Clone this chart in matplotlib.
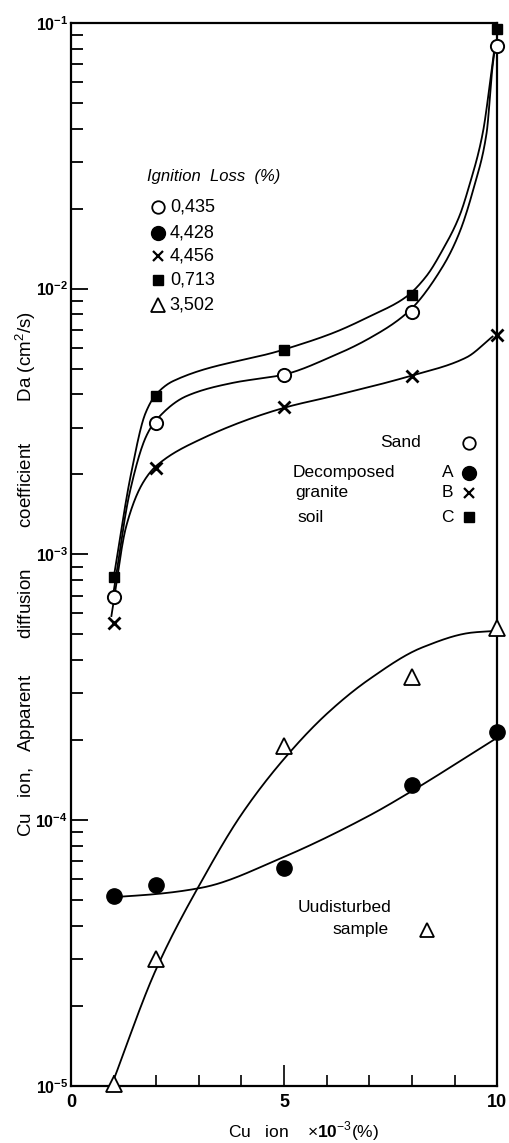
import numpy as np
import matplotlib
matplotlib.use("Agg")
import matplotlib.pyplot as plt
from matplotlib.ticker import MultipleLocator, LogLocator, FuncFormatter, NullFormatter

plt.rcParams['font.family'] = ['Liberation Sans', 'DejaVu Sans']
plt.rcParams['mathtext.fontset'] = 'custom'
plt.rcParams['mathtext.rm'] = 'Liberation Sans'
plt.rcParams['mathtext.bf'] = 'Liberation Sans:bold'

# measured points, Cu ion x 10^-3 (%)
x_pts = [1, 2, 5, 8, 10]
sand_y = [6.9e-4, 3.13e-3, 4.75e-3, 8.2e-3, 8.2e-2]      # 0,435
a_y = [5.18e-5, 5.7e-5, 6.6e-5, 1.36e-4, 2.14e-4]         # 4,428
b_y = [5.5e-4, 2.12e-3, 3.57e-3, 4.67e-3, 6.7e-3]         # 4,456
c_y = [8.2e-4, 3.93e-3, 5.9e-3, 9.5e-3, 9.5e-2]           # 0,713
und_y = [1.02e-5, 3.0e-5, 1.9e-4, 3.45e-4, 5.3e-4]        # 3,502

# hand drawn fitted curves
c_cx = [1.0, 1.4, 1.75, 2.0, 2.4, 5.0, 6.14, 7.0, 7.86, 8.33, 8.72, 9.11, 9.34, 9.66, 9.85, 9.95]
c_cy = [8.1e-4, 1.97e-3, 3.4e-3, 4.0e-3, 4.49e-3, 5.9e-3, 6.8e-3, 7.85e-3, 9.3e-3, 1.11e-2,
        1.4e-2, 1.87e-2, 2.43e-2, 3.85e-2, 6.3e-2, 8.4e-2]
sand_cx = [1.0, 1.38, 1.77, 2.0, 2.71, 3.8, 5.0, 6.14, 7.0, 7.92, 8.72, 9.11, 9.46, 9.75, 9.89, 9.95]
sand_cy = [7.2e-4, 1.71e-3, 2.79e-3, 3.2e-3, 3.94e-3, 4.42e-3, 4.75e-3, 5.57e-3, 6.5e-3, 8.2e-3,
           1.21e-2, 1.62e-2, 2.43e-2, 3.85e-2, 6.86e-2, 8.1e-2]
b_cx = [0.95, 1.3, 1.69, 2.0, 3.02, 5.0, 6.14, 7.94, 9.27, 9.89]
b_cy = [5.86e-4, 1.28e-3, 1.86e-3, 2.15e-3, 2.7e-3, 3.56e-3, 3.94e-3, 4.68e-3, 5.5e-3, 6.6e-3]
und_cx = [0.95, 2.0, 3.1, 4.0, 5.0, 6.0, 7.0, 8.25, 9.42, 9.95]
und_cy = [1.0e-5, 2.75e-5, 6.03e-5, 1.05e-4, 1.70e-4, 2.51e-4, 3.39e-4, 4.47e-4, 5.08e-4, 5.15e-4]
a_cx = [1.0, 2.0, 3.1, 4.97, 7.0, 7.94, 9.93]
a_cy = [5.13e-5, 5.27e-5, 5.58e-5, 7.24e-5, 1.04e-4, 1.27e-4, 2.01e-4]

ignition_labels = ["0,435", "4,428", "4,456", "0,713", "3,502"]


def smooth(xs, ys, n=30):
    # monotone cubic (pchip) through the read points, in log space
    x = np.asarray(xs, float)
    ly = np.log10(np.asarray(ys, float))
    h = np.diff(x)
    d = np.diff(ly) / h
    m = np.zeros_like(ly)
    m[0], m[-1] = d[0], d[-1]
    for k in range(1, len(x) - 1):
        if d[k - 1] * d[k] > 0:
            w1 = 2 * h[k] + h[k - 1]
            w2 = h[k] + 2 * h[k - 1]
            m[k] = (w1 + w2) / (w1 / d[k - 1] + w2 / d[k])
    ox, oy = [], []
    t = np.linspace(0, 1, n)
    h00 = 2 * t**3 - 3 * t**2 + 1
    h10 = t**3 - 2 * t**2 + t
    h01 = -2 * t**3 + 3 * t**2
    h11 = t**3 - t**2
    for i in range(len(x) - 1):
        ox.extend(x[i] + t * h[i])
        oy.extend(h00 * ly[i] + h10 * h[i] * m[i] + h01 * ly[i + 1] + h11 * h[i] * m[i + 1])
    return np.array(ox), 10 ** np.array(oy)


fig = plt.figure(figsize=(5.10, 11.43), dpi=100)
ax = fig.add_axes([0.139, 0.050, 0.836, 0.930])
ax.set_yscale('log')
ax.set_xlim(0, 10)
ax.set_ylim(1e-5, 1e-1)

lw = 1.3
for cx, cy in [(c_cx, c_cy), (sand_cx, sand_cy), (b_cx, b_cy), (und_cx, und_cy), (a_cx, a_cy)]:
    sx, sy = smooth(cx, cy)
    ax.plot(sx, sy, color='black', lw=lw, zorder=2)

mk = dict(color='black', linestyle='none', clip_on=False, zorder=3)
ax.plot(x_pts, sand_y, marker='o', ms=9.5, mfc='white', mew=1.4, **mk)
ax.plot(x_pts, a_y, marker='o', ms=11, mfc='black', **mk)
ax.plot(x_pts, b_y, marker='x', ms=8, mew=2.0, **mk)
ax.plot(x_pts, c_y, marker='s', ms=7, mfc='black', **mk)
ax.plot(x_pts, und_y, marker='^', ms=11, mfc='white', mew=1.3, **mk)

# axes styling
for s in ax.spines.values():
    s.set_linewidth(1.6)
ax.xaxis.set_major_locator(MultipleLocator(5))
ax.xaxis.set_minor_locator(MultipleLocator(1))
ax.yaxis.set_major_locator(LogLocator(base=10, numticks=10))
ax.yaxis.set_minor_locator(LogLocator(base=10, subs=np.arange(2, 10), numticks=20))
ax.yaxis.set_minor_formatter(NullFormatter())
ax.yaxis.set_major_formatter(FuncFormatter(lambda v, p: r'$\mathbf{10^{%d}}$' % round(np.log10(v))))
ax.tick_params(axis='x', which='major', direction='in', length=15, width=1.2, pad=6,
               labelsize=13, top=False)
ax.tick_params(axis='x', which='minor', direction='in', length=8, width=1.2, top=False)
ax.tick_params(axis='y', which='major', direction='in', length=12, width=1.3, pad=2,
               labelsize=11.5, right=False)
ax.tick_params(axis='y', which='minor', direction='in', length=8.5, width=1.3, right=False)
for lab in ax.get_xticklabels():
    lab.set_fontweight('bold')

ax.set_xlabel(r'Cu   ion    $\times\mathbf{10}^{-3}$(%)', fontsize=12.5)
ax.xaxis.set_label_coords(0.545, -0.032)
ax.set_ylabel(r'Cu   ion,   Apparent       diffusion        coefficient        Da (cm$^2$/s)',
              fontsize=13.5)
ax.yaxis.set_label_coords(-0.078, 0.481)

# key, top left
ax.text(0.178, 0.855, 'Ignition  Loss  (%)', transform=ax.transAxes, fontsize=12,
        style='italic', va='center', ha='left')
key_y = [0.827, 0.802, 0.781, 0.758, 0.735]
key_m = [dict(marker='o', ms=9, mfc='white', mew=1.3),
         dict(marker='o', ms=10, mfc='black'),
         dict(marker='x', ms=7, mew=1.6),
         dict(marker='s', ms=7, mfc='black'),
         dict(marker='^', ms=10, mfc='white', mew=1.3)]
for ky, km, kl in zip(key_y, key_m, ignition_labels):
    ax.plot([0.204], [ky], transform=ax.transAxes, color='black', linestyle='none', **km)
    ax.text(0.232, ky, kl, transform=ax.transAxes, fontsize=13, va='center', ha='left')

# key, right side
ax.text(0.822, 0.605, 'Sand', transform=ax.transAxes, fontsize=12.5, va='center', ha='right')
ax.text(0.520, 0.577, 'Decomposed', transform=ax.transAxes, fontsize=12.5, va='center', ha='left')
ax.text(0.527, 0.558, 'granite', transform=ax.transAxes, fontsize=12.5, va='center', ha='left')
ax.text(0.532, 0.535, 'soil', transform=ax.transAxes, fontsize=12.5, va='center', ha='left')
for ky, kl, km in zip([0.605, 0.577, 0.558, 0.535], ['', 'A', 'B', 'C'], key_m[:4]):
    if kl:
        ax.text(0.883, ky, kl, transform=ax.transAxes, fontsize=12.5, va='center', ha='center')
    ax.plot([0.934], [ky], transform=ax.transAxes, color='black', linestyle='none', **km)

ax.text(0.532, 0.168, 'Uudisturbed', transform=ax.transAxes, fontsize=12.5, va='center', ha='left')
ax.text(0.614, 0.147, 'sample', transform=ax.transAxes, fontsize=12.5, va='center', ha='left')
ax.plot([0.836], [0.147], transform=ax.transAxes, color='black', linestyle='none', **key_m[4])

fig.savefig('out.png', dpi=100)
